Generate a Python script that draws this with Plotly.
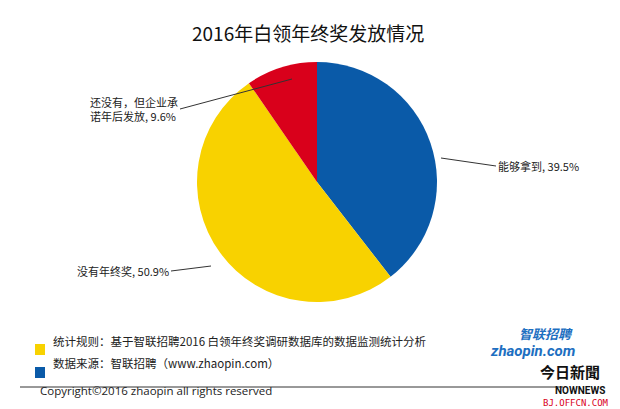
import plotly.graph_objects as go

labels = ['能够拿到', '没有年终奖', '还没有，但企业承诺年后发放']
values = [39.5, 50.9, 9.6]
colors = ['#0A5AA8', '#F8D200', '#D9001B']

W, H = 620, 409
def px(x): return x / W
def py(y): return 1 - y / H

fig = go.Figure(go.Pie(
    labels=labels, values=values, sort=False, direction='clockwise', rotation=0,
    marker=dict(colors=colors, line=dict(width=0)), textinfo='none', hoverinfo='label+percent',
    domain=dict(x=[px(189), px(429)], y=[py(294), py(54)]), showlegend=False,
))

font = dict(family='Noto Sans CJK SC', size=11, color='#222')
ann = [
    dict(x=px(433), y=py(150), text=f'{labels[0]}, {values[0]}%', ax=55, ay=8, xanchor='left'),
    dict(x=px(203), y=py(258), text=f'{labels[1]}, {values[1]}%', ax=-40, ay=5, xanchor='right'),
    dict(x=px(284), y=py(71), text='还没有，但企业承<br>诺年后发放, ' + f'{values[2]}%', ax=-112, ay=30, xanchor='right'),
]
annotations = []
for a in ann:
    annotations.append(dict(xref='paper', yref='paper', showarrow=True, arrowhead=0, arrowwidth=1,
                            arrowcolor='#333', font=font, align='left', standoff=0, yanchor='middle', **a))

def txt(x, y, text, size, family='Noto Sans CJK SC', color='#222', xanchor='center'):
    return dict(x=px(x), y=py(y), text=text, showarrow=False, xanchor=xanchor, yanchor='middle',
                font=dict(family=family, size=size, color=color))

annotations += [
    txt(300, 24, '2016年白领年终奖发放情况', 19, color='#111'),
    txt(43, 333, '统计规则：基于智联招聘2016 白领年终奖调研数据库的数据监测统计分析', 11.5, xanchor='left'),
    txt(43, 355, '数据来源：智联招聘（www.zhaopin.com）', 11.5, xanchor='left'),
    txt(30, 382, 'Copyright©2016 zhaopin all rights reserved', 11.5, family='Open Sans', xanchor='left'),
    txt(538, 325, '<i><b>智联招聘</b></i>', 13, color='#1D6FC1'),
    txt(524, 343, '<i><b>zhaopin.com</b></i>', 15, family='Roboto', color='#1D6FC1'),
    txt(562, 363, '<b>今日新聞</b>', 15, family='Noto Sans CJK TC', color='#111'),
    txt(572, 382, '<b>NOWNEWS</b>', 10, family='Roboto', color='#111'),
    txt(568, 395, 'BJ.OFFCN.COM', 9, family='DejaVu Sans Mono', color='#D9001B'),
]

shapes = [
    dict(type='rect', xref='paper', yref='paper', x0=px(27), x1=px(37), y0=py(347), y1=py(336),
         fillcolor=colors[1], line=dict(width=0)),
    dict(type='rect', xref='paper', yref='paper', x0=px(27), x1=px(37), y0=py(370), y1=py(359),
         fillcolor=colors[0], line=dict(width=0)),
    dict(type='line', xref='paper', yref='paper', x0=px(12), x1=px(555), y0=py(379), y1=py(379),
         line=dict(color='#333', width=1)),
]

fig.update_layout(width=W, height=H, margin=dict(l=0, r=0, t=0, b=0), paper_bgcolor='white',
                  annotations=annotations, shapes=shapes)
fig.write_html('out.html')
